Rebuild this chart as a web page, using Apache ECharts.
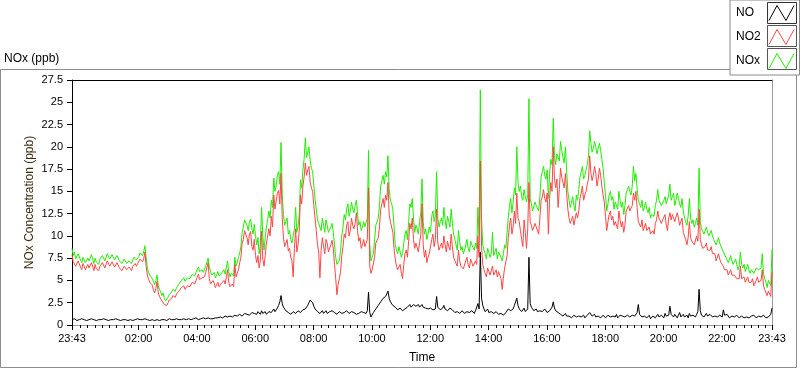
<!DOCTYPE html>
<html><head><meta charset="utf-8">
<script src="https://cdn.jsdelivr.net/npm/echarts@6/dist/echarts.min.js"></script>
<style>html,body{margin:0;padding:0;background:#fff}#c{width:800px;height:369px}</style>
</head><body><div id="c"></div>
<script>
// Readings every 2.5 minutes from 23:43 (offset 0 min) to 23:43 next day (offset 1440 min).
// *_A arrays: readings at offsets 0, 5, 10 ... 1440 ; *_B arrays: readings at offsets 2.5, 7.5 ... 1437.5
const stepMinutes = 5;
const seriesNames = ['NO', 'NO2', 'NOx'];

const NOx_A = [
 8.6, 8.2, 7.6, 7.9, 7.0, 7.5, 6.8, 7.2, 7.9, 6.9, 7.1, 6.8,
 7.3, 7.6, 7.4, 7.9, 7.5, 7.8, 7.4, 7.7, 7.3, 7.0, 7.2, 6.8,
 7.1, 7.3, 7.7, 7.5, 8.1, 7.8, 8.9, 6.4, 5.6, 5.2, 4.5, 5.6,
 4.0, 3.3, 3.0, 2.8, 3.4, 3.7, 3.9, 4.2, 4.6, 5.0, 5.3, 5.1,
 5.5, 5.4, 5.6, 5.9, 6.5, 5.8, 5.9, 6.6, 7.5, 6.0, 5.8, 5.3,
 6.0, 5.6, 5.9, 5.7, 7.2, 5.4, 6.0, 7.6, 7.0, 8.1, 10.4, 11.8,
 11.2, 11.6, 10.8, 11.3, 9.0, 8.0, 13.2, 8.4, 11.0, 12.8, 14.0, 16.5,
 15.6, 17.2, 20.5, 12.4, 11.6, 10.2, 9.6, 10.0, 13.2, 11.0, 16.3, 17.4,
 21.0, 19.4, 18.4, 17.2, 14.2, 11.8, 11.0, 12.0, 10.4, 11.2, 10.6, 11.4,
 9.0, 6.8, 7.2, 10.0, 12.4, 13.0, 12.2, 13.8, 12.6, 14.0, 11.2, 10.6,
 11.6, 10.8, 19.6, 7.2, 8.0, 11.2, 12.0, 15.6, 16.8, 17.2, 19.0, 14.0,
 13.0, 9.0, 8.0, 8.6, 8.0, 10.2, 9.6, 13.6, 14.2, 10.4, 10.8, 11.6,
 16.4, 10.2, 9.6, 11.0, 12.2, 11.6, 17.2, 11.0, 12.0, 13.2, 10.8, 11.6,
 13.0, 10.2, 9.0, 10.6, 8.4, 8.0, 9.0, 8.6, 9.4, 8.8, 9.2, 13.2,
 26.4, 9.0, 8.0, 8.6, 7.6, 10.4, 8.2, 7.4, 8.0, 7.2, 9.0, 10.4,
 13.4, 12.6, 15.4, 20.0, 15.0, 14.4, 15.2, 13.8, 25.4, 13.6, 12.6, 13.4,
 12.8, 16.6, 17.8, 16.4, 14.2, 18.6, 23.2, 18.0, 19.4, 20.6, 18.8, 20.0,
 15.0, 13.2, 14.4, 12.8, 14.0, 16.6, 17.8, 16.8, 18.0, 21.8, 19.4, 20.6,
 19.2, 20.4, 18.6, 16.0, 12.8, 14.6, 14.0, 13.0, 13.6, 15.0, 13.2, 12.4,
 14.8, 15.6, 14.6, 17.8, 17.0, 14.0, 13.2, 12.8, 13.8, 12.6, 12.0, 12.4,
 13.4, 15.2, 14.2, 13.6, 14.4, 13.8, 15.8, 14.4, 13.4, 14.8, 13.6, 14.2,
 12.0, 11.2, 14.2, 11.4, 11.0, 12.0, 17.6, 10.8, 10.2, 11.0, 10.0, 10.6,
 9.6, 9.0, 9.8, 8.8, 8.2, 7.6, 7.0, 7.8, 6.8, 7.4, 6.2, 8.2,
 6.4, 6.0, 6.8, 5.8, 6.4, 6.0, 6.6, 6.0, 8.0, 5.2, 4.2, 4.8,
 8.5
];
const NOx_B = [
 7.8, 7.4, 8.0, 7.3, 7.6, 7.0, 7.5, 7.1, 7.4, 7.5, 6.9, 7.4,
 7.8, 7.2, 8.0, 7.4, 7.9, 7.3, 7.8, 7.2, 6.9, 7.4, 6.9, 7.2,
 6.9, 7.6, 7.3, 7.7, 8.3, 8.2, 7.6, 5.9, 5.8, 4.9, 5.0, 4.4,
 3.7, 3.6, 2.7, 3.1, 3.2, 4.0, 3.8, 4.4, 4.5, 5.2, 4.9, 5.3,
 5.2, 5.7, 5.5, 6.1, 6.0, 6.2, 6.2, 6.8, 6.6, 5.6, 5.9, 5.6,
 5.5, 5.8, 6.2, 5.8, 6.0, 5.8, 5.5, 6.6, 7.6, 8.8, 11.0, 12.0,
 10.6, 11.9, 10.2, 10.0, 9.8, 9.2, 10.0, 9.8, 11.8, 12.0, 13.2, 15.0,
 16.8, 15.8, 14.6, 11.2, 12.0, 10.6, 9.2, 10.8, 10.4, 12.4, 15.4, 18.6,
 18.8, 20.0, 17.6, 15.6, 13.0, 11.4, 10.6, 11.2, 11.8, 10.4, 11.0, 10.4,
 7.6, 7.0, 8.4, 11.0, 11.8, 13.6, 12.8, 13.0, 13.4, 12.4, 11.6, 11.0,
 11.0, 12.0, 9.0, 7.6, 9.6, 11.6, 13.4, 16.2, 15.8, 16.6, 15.2, 13.6,
 11.0, 8.4, 8.8, 7.6, 9.2, 10.6, 11.6, 13.2, 12.0, 11.2, 10.2, 12.6,
 11.6, 10.8, 10.2, 10.4, 12.8, 12.4, 12.0, 11.6, 11.2, 11.8, 12.2, 11.0,
 11.4, 9.6, 8.4, 9.4, 8.8, 8.4, 9.6, 8.2, 9.0, 8.4, 8.6, 10.0,
 12.0, 8.4, 7.4, 8.2, 8.0, 7.8, 8.6, 8.2, 7.6, 8.0, 8.6, 12.0,
 14.2, 13.8, 14.6, 16.0, 15.6, 14.0, 14.4, 14.6, 14.2, 12.8, 13.8, 13.2,
 14.4, 17.2, 16.8, 17.4, 17.0, 18.0, 19.0, 19.2, 18.4, 19.6, 18.2, 17.4,
 14.0, 13.8, 13.4, 14.6, 15.2, 17.2, 16.4, 17.4, 19.0, 20.4, 19.8, 20.0,
 19.8, 19.6, 17.6, 14.6, 13.6, 15.0, 14.4, 13.8, 13.0, 14.0, 13.8, 13.4,
 15.2, 15.0, 15.6, 16.2, 15.4, 13.6, 14.0, 13.2, 13.0, 13.2, 12.4, 12.2,
 14.0, 14.0, 13.4, 14.0, 13.6, 14.6, 14.0, 14.8, 14.0, 14.2, 13.2, 12.8,
 11.6, 12.2, 12.0, 11.8, 11.4, 11.2, 11.6, 10.6, 10.6, 10.4, 10.2, 10.0,
 9.8, 9.4, 9.2, 9.0, 8.0, 7.8, 7.4, 7.2, 7.0, 6.8, 6.6, 6.8,
 6.8, 6.4, 6.2, 6.2, 5.8, 6.4, 6.2, 6.4, 5.8, 4.8, 5.0, 4.4
];

const NO2_A = [
 7.9, 7.0, 6.8, 7.1, 6.2, 6.6, 6.0, 6.4, 7.0, 6.1, 6.3, 6.1,
 6.6, 6.9, 6.6, 7.0, 6.8, 7.1, 6.6, 6.9, 6.5, 6.3, 6.4, 6.1,
 6.3, 6.6, 6.9, 6.9, 7.4, 7.1, 8.2, 5.6, 4.8, 4.5, 3.6, 4.9,
 3.2, 2.7, 2.3, 2.2, 2.8, 3.0, 3.3, 3.5, 3.8, 4.2, 4.4, 4.1,
 4.6, 4.5, 4.8, 5.0, 5.7, 5.0, 5.1, 5.9, 7.0, 4.6, 5.0, 4.2,
 4.8, 4.5, 4.9, 4.6, 6.2, 4.3, 4.6, 6.8, 5.6, 7.0, 9.2, 10.6,
 9.8, 10.2, 8.8, 9.6, 7.0, 6.4, 10.5, 6.6, 9.2, 10.8, 12.2, 14.6,
 13.0, 15.1, 17.0, 9.8, 9.0, 8.3, 7.6, 5.4, 10.8, 9.0, 14.6, 15.6,
 18.2, 17.4, 16.0, 15.0, 12.0, 9.0, 5.3, 9.8, 8.0, 9.2, 8.4, 9.5,
 6.8, 3.4, 5.2, 7.8, 10.2, 11.2, 10.0, 12.0, 10.8, 12.6, 9.4, 8.6,
 9.6, 8.8, 15.4, 5.8, 6.2, 9.2, 9.8, 13.0, 14.2, 14.6, 16.0, 11.6,
 10.4, 7.4, 6.2, 6.8, 5.2, 8.0, 7.6, 11.4, 12.0, 8.6, 9.0, 9.2,
 13.6, 7.6, 7.0, 8.0, 9.6, 8.8, 13.0, 8.4, 9.2, 10.0, 8.2, 8.8,
 10.2, 7.6, 7.0, 8.4, 6.6, 6.3, 7.2, 6.8, 7.4, 6.6, 7.2, 10.0,
 18.4, 6.8, 5.8, 6.4, 5.6, 6.6, 5.8, 5.4, 5.6, 4.0, 6.4, 7.8,
 11.2, 10.2, 12.8, 14.8, 11.6, 9.6, 11.8, 8.6, 16.0, 11.2, 10.4, 11.0,
 10.2, 14.0, 15.2, 13.8, 10.2, 16.0, 20.0, 15.4, 13.2, 17.6, 16.0, 17.0,
 13.0, 11.4, 12.2, 11.0, 12.0, 14.2, 15.6, 14.6, 15.8, 19.0, 16.2, 17.8,
 15.6, 17.6, 15.6, 13.8, 10.6, 12.4, 11.8, 11.2, 11.4, 12.8, 11.0, 10.4,
 12.8, 13.4, 12.6, 14.8, 15.0, 11.6, 11.0, 10.6, 11.4, 10.4, 10.2, 10.6,
 11.4, 12.8, 12.2, 11.8, 12.4, 10.6, 12.6, 12.4, 11.6, 12.6, 11.2, 12.0,
 10.0, 9.0, 11.6, 9.4, 9.0, 10.0, 13.0, 9.0, 8.4, 9.2, 8.2, 8.8,
 7.8, 7.2, 8.0, 7.0, 6.6, 6.0, 5.6, 6.2, 5.4, 5.8, 5.0, 6.6,
 5.0, 4.8, 5.4, 4.6, 5.2, 4.6, 5.4, 4.8, 6.2, 4.0, 3.3, 3.6,
 6.0
];
const NO2_B = [
 7.1, 6.6, 7.2, 6.5, 6.9, 6.2, 6.8, 6.3, 6.6, 6.8, 6.1, 6.6,
 7.0, 6.4, 7.2, 6.6, 7.1, 6.5, 7.0, 6.4, 6.1, 6.6, 6.2, 6.5,
 6.1, 6.8, 6.6, 7.0, 7.6, 7.4, 6.6, 5.1, 4.9, 3.9, 4.1, 3.6,
 3.0, 2.9, 2.1, 2.5, 2.6, 3.3, 3.1, 3.7, 3.7, 4.3, 4.0, 4.4,
 4.3, 4.8, 4.6, 5.2, 5.1, 5.3, 5.4, 6.0, 5.2, 4.4, 4.7, 4.4,
 4.3, 4.7, 5.0, 4.5, 4.8, 4.4, 4.3, 5.4, 6.2, 7.6, 9.6, 10.6,
 9.0, 10.5, 8.4, 7.8, 7.8, 7.2, 7.4, 7.8, 10.0, 10.0, 11.0, 13.0,
 14.8, 13.6, 12.0, 8.8, 9.6, 8.6, 7.2, 8.6, 8.2, 10.6, 13.6, 16.6,
 16.8, 17.8, 15.4, 13.4, 10.6, 8.2, 8.4, 8.8, 9.6, 8.2, 9.0, 8.6,
 5.2, 4.6, 6.0, 8.8, 9.8, 11.6, 10.6, 11.2, 11.4, 10.6, 9.8, 9.0,
 8.8, 9.6, 6.6, 6.2, 7.6, 9.4, 11.0, 13.6, 13.2, 14.0, 12.4, 11.0,
 8.6, 6.6, 6.4, 5.8, 6.8, 8.4, 9.4, 10.8, 9.6, 9.2, 8.2, 10.2,
 9.0, 8.4, 7.6, 7.8, 10.2, 9.6, 9.2, 8.8, 8.6, 9.0, 9.4, 8.4,
 8.8, 7.2, 6.6, 7.2, 6.8, 6.4, 7.6, 6.4, 7.0, 6.4, 6.8, 7.6,
 8.8, 6.2, 5.4, 6.0, 5.8, 5.6, 6.2, 6.0, 5.2, 5.4, 6.2, 9.8,
 12.0, 11.0, 11.4, 12.0, 10.6, 8.8, 10.4, 10.8, 11.6, 10.6, 11.4, 10.8,
 12.0, 14.4, 14.2, 14.8, 14.2, 15.0, 16.4, 16.4, 15.2, 16.6, 15.4, 14.8,
 12.0, 11.8, 11.2, 12.6, 12.8, 14.8, 14.0, 15.0, 16.4, 17.0, 16.8, 17.0,
 16.4, 16.8, 14.6, 12.2, 11.6, 12.8, 12.2, 11.6, 10.8, 11.8, 11.6, 11.2,
 13.0, 12.8, 13.4, 14.0, 13.2, 11.4, 11.8, 10.8, 10.6, 11.0, 10.4, 10.2,
 11.8, 12.0, 11.4, 12.0, 11.2, 12.0, 11.8, 12.6, 11.6, 12.0, 11.0, 10.4,
 9.6, 9.8, 9.8, 9.6, 9.2, 9.4, 9.6, 8.6, 8.8, 8.4, 8.4, 8.0,
 8.0, 7.4, 7.4, 7.2, 6.2, 6.2, 5.8, 5.6, 5.6, 5.2, 5.2, 5.2,
 5.4, 5.0, 4.8, 4.8, 4.4, 5.0, 4.8, 5.0, 4.4, 3.6, 3.8, 3.2
];

const NO_A = [
 0.6, 0.7, 0.5, 0.6, 0.7, 0.6, 0.5, 0.6, 0.7, 0.6, 0.5, 0.6,
 0.6, 0.7, 0.6, 0.5, 0.6, 0.6, 0.7, 0.6, 0.5, 0.6, 0.6, 0.5,
 0.6, 0.5, 0.6, 0.7, 0.6, 0.6, 0.7, 0.6, 0.5, 0.6, 0.5, 0.6,
 0.5, 0.6, 0.6, 0.5, 0.7, 0.6, 0.6, 0.7, 0.6, 0.6, 0.7, 0.6,
 0.7, 0.6, 0.7, 0.8, 0.6, 0.7, 0.8, 0.7, 0.8, 0.7, 0.7, 0.8,
 0.8, 0.9, 0.8, 1.0, 0.9, 1.0, 0.9, 1.1, 1.0, 1.2, 1.0, 1.3,
 1.2, 1.1, 1.4, 1.3, 1.2, 1.4, 1.6, 1.3, 1.2, 1.5, 1.4, 1.8,
 1.6, 2.2, 3.3, 2.0, 1.6, 1.4, 1.2, 1.5, 1.3, 1.6, 1.4, 1.7,
 1.8, 2.2, 2.8, 2.5, 1.8, 1.5, 1.3, 1.6, 1.4, 1.3, 1.5, 1.6,
 1.4, 1.2, 1.5, 1.3, 1.4, 1.6, 1.3, 1.5, 1.4, 1.2, 1.3, 1.5,
 1.4, 1.3, 3.7, 0.9, 1.4, 1.8, 2.2, 2.6, 3.0, 3.2, 3.8, 2.6,
 2.2, 2.0, 1.7, 1.9, 1.6, 1.8, 2.0, 2.3, 2.1, 2.4, 2.2, 2.0,
 2.3, 1.8, 2.1, 1.7, 2.0, 1.6, 3.2, 1.8, 1.6, 2.2, 1.9, 1.7,
 2.0, 1.5, 1.3, 1.6, 1.4, 1.5, 1.3, 1.6, 1.4, 1.5, 1.6, 2.4,
 8.2, 2.2, 1.5, 1.8, 1.3, 1.6, 1.2, 1.4, 1.1, 1.3, 1.2, 1.6,
 1.9, 1.4, 2.2, 3.0, 1.8, 1.5, 1.9, 1.6, 7.6, 2.0, 1.6, 1.8,
 1.4, 1.7, 1.5, 1.9, 1.3, 1.8, 2.6, 1.6, 1.4, 1.2, 1.0, 1.3,
 0.9, 1.1, 0.8, 1.0, 0.9, 1.2, 1.0, 0.8, 1.1, 1.4, 1.0, 1.2,
 0.9, 1.1, 0.8, 1.0, 0.9, 1.1, 0.8, 1.0, 1.2, 0.9, 1.3, 0.8,
 1.0, 1.2, 0.9, 1.3, 1.1, 2.3, 1.0, 0.8, 1.1, 0.9, 0.7, 1.0,
 0.8, 1.2, 0.9, 1.1, 1.3, 0.9, 2.1, 1.0, 1.2, 0.8, 1.4, 1.0,
 0.9, 1.1, 1.3, 0.8, 1.0, 1.2, 4.0, 1.1, 0.9, 1.3, 0.8, 1.1,
 0.9, 1.2, 0.8, 1.0, 1.7, 0.9, 1.1, 0.8, 1.0, 0.9, 1.2, 0.8,
 1.0, 0.7, 1.1, 0.9, 0.8, 1.0, 0.9, 1.1, 0.8, 1.0, 0.7, 0.9,
 1.9
];
const NO_B = [
 0.5, 0.6, 0.7, 0.5, 0.6, 0.8, 0.6, 0.7, 0.5, 0.6, 0.7, 0.5,
 0.7, 0.5, 0.7, 0.6, 0.7, 0.5, 0.6, 0.7, 0.6, 0.5, 0.7, 0.6,
 0.7, 0.6, 0.5, 0.6, 0.7, 0.5, 0.6, 0.7, 0.6, 0.5, 0.6, 0.7,
 0.6, 0.5, 0.7, 0.6, 0.5, 0.7, 0.5, 0.6, 0.7, 0.5, 0.6, 0.7,
 0.6, 0.8, 0.6, 0.7, 0.8, 0.6, 0.7, 0.9, 0.6, 0.8, 0.9, 0.7,
 1.0, 0.8, 0.9, 0.8, 1.1, 0.8, 1.0, 0.9, 1.2, 1.0, 1.1, 1.2,
 1.4, 1.3, 1.2, 1.1, 1.5, 1.2, 1.3, 1.5, 1.4, 1.3, 1.6, 1.5,
 1.9, 2.6, 2.4, 1.8, 1.5, 1.6, 1.4, 1.3, 1.5, 1.4, 1.6, 1.5,
 2.0, 2.5, 2.6, 2.1, 1.6, 1.4, 1.5, 1.3, 1.6, 1.5, 1.3, 1.4,
 1.3, 1.4, 1.3, 1.5, 1.3, 1.4, 1.5, 1.3, 1.6, 1.4, 1.5, 1.3,
 1.5, 1.6, 1.4, 1.1, 1.6, 2.0, 2.4, 2.8, 2.9, 3.4, 3.0, 2.4,
 2.1, 1.8, 1.8, 1.7, 1.7, 1.9, 2.2, 2.0, 2.3, 2.1, 2.3, 1.9,
 2.0, 1.9, 1.8, 1.9, 1.7, 1.8, 2.0, 1.7, 1.9, 1.8, 1.6, 1.9,
 1.7, 1.4, 1.5, 1.3, 1.6, 1.3, 1.5, 1.4, 1.6, 1.3, 1.5, 1.8,
 3.0, 1.8, 1.6, 1.4, 1.5, 1.3, 1.5, 1.2, 1.3, 1.1, 1.4, 1.8,
 1.6, 1.8, 2.4, 2.2, 1.6, 1.7, 1.5, 1.8, 2.4, 1.8, 1.7, 1.5,
 1.6, 1.5, 1.8, 1.4, 1.6, 2.0, 1.9, 1.5, 1.3, 1.1, 1.2, 1.0,
 1.0, 0.8, 1.1, 0.9, 1.0, 0.9, 1.1, 1.0, 0.9, 1.2, 1.1, 0.9,
 1.0, 0.8, 1.1, 0.8, 1.1, 0.9, 1.0, 0.9, 0.8, 1.1, 1.0, 0.9,
 1.1, 0.9, 1.1, 1.0, 1.4, 1.2, 0.9, 1.0, 0.8, 1.1, 0.9, 0.8,
 1.0, 0.9, 1.1, 0.8, 1.0, 1.1, 1.2, 0.9, 1.0, 1.1, 0.9, 1.2,
 1.0, 0.8, 1.0, 1.1, 0.9, 1.5, 1.6, 0.9, 1.1, 1.0, 1.2, 0.9,
 1.0, 0.9, 1.1, 0.9, 1.1, 1.2, 0.8, 1.0, 0.9, 1.1, 0.8, 1.0,
 0.8, 0.9, 0.8, 1.0, 1.1, 0.8, 1.0, 0.9, 1.1, 0.8, 0.9, 1.2
];

// Time axis labels (minutes after 23:43)
const tickLabels  = ['23:43', '02:00', '04:00', '06:00', '08:00', '10:00', '12:00', '14:00', '16:00', '18:00', '20:00', '22:00', '23:43'];
const tickOffsets = [0, 137, 257, 377, 497, 617, 737, 857, 977, 1097, 1217, 1337, 1440];
const yTitle = 'NOx Concentration (ppb)';
const xTitle = 'Time';
const chartTitle = 'NOx (ppb)';

const colors = { NO: '#000000', NO2: '#ff4646', NOx: '#1fef00' };

// minor ticks every 15 min on the clock (23:45, 00:00, ...)
const minorTicks = [];
for (let m = 2; m < 1440; m += 15) {
  if (tickOffsets.every(t => Math.abs(t - m) > 3)) minorTicks.push(m);
}

// merge the two reading grids into [minute, value] pairs
const toPairs = (a, b) => {
  const out = [];
  a.forEach((v, i) => {
    out.push([i * stepMinutes, v]);
    if (i < b.length) out.push([i * stepMinutes + stepMinutes / 2, b[i]]);
  });
  return out;
};
const FONT = "'Liberation Sans', Arial, sans-serif";

const chart = echarts.init(document.getElementById('c'), null, { renderer: 'canvas' });

const xBase = { type: 'value', min: 0, max: 1440, splitLine: { show: false }, axisTick: { show: false }, axisLabel: { show: false }, axisLine: { show: false } };
const yBase = { type: 'value', min: 0, max: 27.5, interval: 2.5, splitLine: { show: false }, axisTick: { show: false }, axisLabel: { show: false }, axisLine: { show: false } };

const option = {
  animation: false,
  backgroundColor: '#ffffff',
  title: {
    text: chartTitle, left: 2, top: 51, padding: 2,
    textStyle: { fontFamily: FONT, fontSize: 12, fontWeight: 'normal', color: '#000' }
  },
  grid: { left: 72, right: 28, top: 80, bottom: 41, containLabel: false },
  legend: {
    orient: 'vertical', left: 730, top: 0,
    align: 'right',
    padding: [5, 5, 6, 6],
    itemGap: 8, itemWidth: 25, itemHeight: 15,
    backgroundColor: '#ffffff', borderColor: '#8a8a8a', borderWidth: 1, borderRadius: 0,
    symbolKeepAspect: false,
    icon: 'path://M0,15 L8,1 L17,15 L25,1',
    formatter: name => '{a|' + name + '}',
    textStyle: { fontFamily: FONT, fontSize: 12, color: '#000',
      rich: { a: { width: 28, align: 'left', fontFamily: FONT, fontSize: 12, color: '#000' } } },
    data: seriesNames.map(n => ({ name: n, itemStyle: { color: 'transparent', borderColor: colors[n], borderWidth: 1 } }))
  },
  graphic: [
    { type: 'rect', z: -10, shape: { x: 0.5, y: 69.5, width: 796, height: 298 }, style: { fill: 'none', stroke: '#8c8c8c', lineWidth: 1 } },
    { type: 'rect', z: 100, shape: { x: 767.5, y: 2.5, width: 29, height: 21 }, style: { fill: 'none', stroke: '#333', lineWidth: 1 } },
    { type: 'rect', z: 100, shape: { x: 767.5, y: 25.5, width: 29, height: 21 }, style: { fill: 'none', stroke: '#555', lineWidth: 1 } },
    { type: 'rect', z: 100, shape: { x: 767.5, y: 48.5, width: 29, height: 21 }, style: { fill: 'none', stroke: '#555', lineWidth: 1 } }
  ],
  xAxis: [
    Object.assign({}, xBase, { position: 'bottom', axisLine: { show: true, onZero: false, lineStyle: { color: '#9a9a9a', width: 1 } },
      name: xTitle, nameLocation: 'middle', nameGap: 27,
      nameTextStyle: { fontFamily: FONT, fontSize: 12, color: '#000' } }),
    Object.assign({}, xBase, { position: 'top', axisLine: { show: true, onZero: false, lineStyle: { color: '#000', width: 1 } } }),
    Object.assign({}, xBase, { position: 'bottom', offset: 2,
      axisTick: { show: true, customValues: tickOffsets, length: 5, lineStyle: { color: '#000', width: 1 } },
      axisLabel: { show: true, customValues: tickOffsets, margin: 6, fontFamily: FONT, fontSize: 11, color: '#000',
        formatter: v => tickLabels[tickOffsets.indexOf(Math.round(v))] } }),
    Object.assign({}, xBase, { position: 'bottom', offset: 2,
      axisTick: { show: true, customValues: minorTicks, length: 3, lineStyle: { color: '#000', width: 1 } } })
  ],
  yAxis: [
    Object.assign({}, yBase, { position: 'left', axisLine: { show: true, onZero: false, lineStyle: { color: '#000', width: 1 } },
      name: yTitle, nameLocation: 'middle', nameGap: 36, nameRotate: 90,
      nameTextStyle: { fontFamily: FONT, fontSize: 12, color: '#3a2c10' } }),
    Object.assign({}, yBase, { position: 'right', axisLine: { show: true, onZero: false, lineStyle: { color: '#9a9a9a', width: 1 } } }),
    Object.assign({}, yBase, { position: 'left', offset: 3,
      axisTick: { show: true, length: 5, lineStyle: { color: '#000', width: 1 } },
      axisLabel: { show: true, margin: 6, fontFamily: FONT, fontSize: 11, color: '#000' } })
  ],
  series: [
    { name: 'NO', type: 'line', xAxisIndex: 0, yAxisIndex: 0, data: toPairs(NO_A, NO_B), symbol: 'none', showSymbol: false, z: 3,
      color: colors.NO, lineStyle: { width: 1, color: colors.NO } },
    { name: 'NO2', type: 'line', xAxisIndex: 0, yAxisIndex: 0, data: toPairs(NO2_A, NO2_B), symbol: 'none', showSymbol: false, z: 2,
      color: colors.NO2, lineStyle: { width: 1, color: colors.NO2 } },
    { name: 'NOx', type: 'line', xAxisIndex: 0, yAxisIndex: 0, data: toPairs(NOx_A, NOx_B), symbol: 'none', showSymbol: false, z: 1,
      color: colors.NOx, lineStyle: { width: 1, color: colors.NOx } }
  ]
};
chart.setOption(option);
</script>
</body></html>
